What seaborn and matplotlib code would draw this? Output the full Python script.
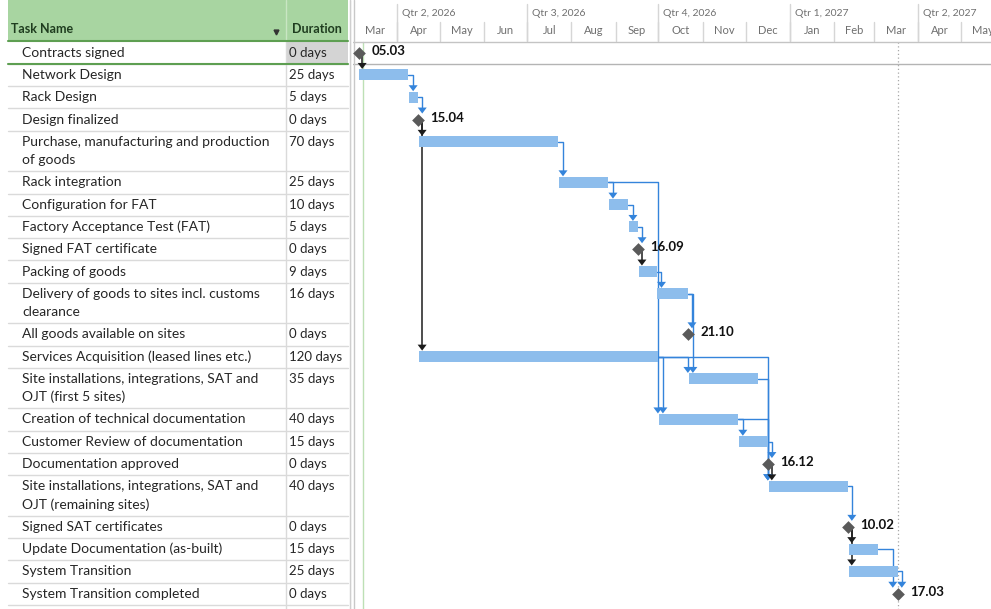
import pandas as pd
import numpy as np
import seaborn as sns
import matplotlib.pyplot as plt
import matplotlib.dates as mdates
from matplotlib.patches import Rectangle, Polygon

# ---------------- data ----------------
task_names = [
    "Contracts signed",
    "Network Design",
    "Rack Design",
    "Design finalized",
    "Purchase, manufacturing and production\nof goods",
    "Rack integration",
    "Configuration for FAT",
    "Factory Acceptance Test (FAT)",
    "Signed FAT certificate",
    "Packing of goods",
    "Delivery of goods to sites incl. customs\nclearance",
    "All goods available on sites",
    "Services Acquisition (leased lines etc.)",
    "Site installations, integrations, SAT and\nOJT (first 5 sites)",
    "Creation of technical documentation",
    "Customer Review of documentation",
    "Documentation approved",
    "Site installations, integrations, SAT and\nOJT (remaining sites)",
    "Signed SAT certificates",
    "Update Documentation (as-built)",
    "System Transition",
    "System Transition completed",
]
durations = ["0 days", "25 days", "5 days", "0 days", "70 days", "25 days",
             "10 days", "5 days", "0 days", "9 days", "16 days", "0 days",
             "120 days", "35 days", "40 days", "15 days", "0 days", "40 days",
             "0 days", "15 days", "25 days", "0 days"]
starts = ["2026-03-05 08:00", "2026-03-05 08:00", "2026-04-09 08:00", "2026-04-15 17:00",
          "2026-04-16 08:00", "2026-07-23 08:00", "2026-08-27 08:00", "2026-09-10 08:00",
          "2026-09-16 17:00", "2026-09-17 08:00", "2026-09-30 08:00", "2026-10-21 17:00",
          "2026-04-16 08:00", "2026-10-22 08:00", "2026-10-01 08:00", "2026-11-26 08:00",
          "2026-12-16 17:00", "2026-12-17 08:00", "2027-02-10 17:00", "2027-02-11 08:00",
          "2027-02-11 08:00", "2027-03-17 17:00"]
finishes = ["2026-03-05 08:00", "2026-04-08 17:00", "2026-04-15 17:00", "2026-04-15 17:00",
            "2026-07-22 17:00", "2026-08-26 17:00", "2026-09-09 17:00", "2026-09-16 17:00",
            "2026-09-16 17:00", "2026-09-29 17:00", "2026-10-21 17:00", "2026-10-21 17:00",
            "2026-09-30 17:00", "2026-12-09 17:00", "2026-11-25 17:00", "2026-12-16 17:00",
            "2026-12-16 17:00", "2027-02-10 17:00", "2027-02-10 17:00", "2027-03-03 17:00",
            "2027-03-17 17:00", "2027-03-17 17:00"]

# predecessor, successor, px offset of the vertical drop
links = [
    (0, 1, 3), (1, 2, 4), (2, 3, 4), (3, 4, 3), (3, 12, 3), (4, 5, 4),
    (5, 6, 4), (5, 14, -1), (6, 7, 4), (7, 8, 4), (8, 9, 3), (9, 10, 4),
    (10, 11, 4), (10, 13, 4), (12, 13, -1), (12, 14, 4), (12, 17, -1),
    (13, 17, -1), (14, 15, 4), (14, 17, -1), (15, 16, 4), (16, 17, 3),
    (17, 18, 4), (18, 19, 3), (18, 20, 3), (19, 21, -5), (20, 21, 4),
]

quarter_labels = ["Qtr 2, 2026", "Qtr 3, 2026", "Qtr 4, 2026", "Qtr 1, 2027", "Qtr 2, 2027"]
month_labels = ["Mar", "Apr", "May", "Jun", "Jul", "Aug", "Sep", "Oct", "Nov", "Dec",
                "Jan", "Feb", "Mar", "Apr", "May"]

view_start = "2026-03-01"
view_end = "2027-05-22"
status_date = "2026-03-08"

# ---------------- style ----------------
sns.set_theme(style="white")
plt.rcParams['font.family'] = ['Lato', 'DejaVu Sans']

W, H = 991, 609
BAR = "#8dbdec"
LINK = "#3484db"
BLACK = "#1c1c1c"
GREEN = "#a8d5a1"
DKGREEN = "#5e9f52"
GRID = "#dadada"
TXT = "#262626"

fig = plt.figure(figsize=(W / 100, H / 100), dpi=100)
ax_t = fig.add_axes([0, 0, 352 / W, 1])
ax_g = fig.add_axes([353 / W, 0, (W - 353) / W, 1])

# row layout (1 y-unit = 1 pixel)
n_lines = [len(n.split("\n")) for n in task_names]
heights = [22.3 + (k - 1) * 18.2 for k in n_lines]
tops = 41.5 + np.concatenate([[0], np.cumsum(heights)[:-1]])
bottoms = tops + np.array(heights)
centers = tops + 11.15

# ---------------- table ----------------
ax_t.set_xlim(0, 352)
ax_t.set_ylim(H, 0)
ax_t.axis("off")

ax_t.add_patch(Rectangle((8, 0), 340, 40.5, color=GREEN, lw=0))
ax_t.plot([286, 286], [0, 40.5], color="#c9e6c3", lw=1)
ax_t.text(11, 29, "Task Name", fontsize=9, fontweight="bold", color="#1f3d1f", va="center")
ax_t.text(292, 29, "Duration", fontsize=9, fontweight="bold", color="#1f3d1f", va="center")
ax_t.plot(276, 31.5, marker="v", ms=3.5, color="#333333")

# selected cell
ax_t.add_patch(Rectangle((287, 42), 61, bottoms[0] - 42, color="#d4d4d4", lw=0))

for i, name in enumerate(task_names):
    for k, line in enumerate(name.split("\n")):
        ax_t.text(22, centers[i] + k * 18.2, line, fontsize=10, color=TXT, va="center")
    ax_t.text(289, centers[i], durations[i], fontsize=9.5, color=TXT, va="center")
    ax_t.plot([8, 348], [bottoms[i], bottoms[i]], color=GRID, lw=1)

ax_t.plot([286, 286], [41, H], color=GRID, lw=1)
ax_t.plot([8, 348], [41, 41], color=DKGREEN, lw=1.5)
ax_t.plot([8, 348], [bottoms[0], bottoms[0]], color=DKGREEN, lw=1.5)
ax_t.plot([349.5, 349.5], [0, H], color="#cfcfcf", lw=1)
ax_t.plot([351.5, 351.5], [0, H], color="#dedede", lw=1)

# ---------------- gantt ----------------
x0 = mdates.date2num(pd.Timestamp(view_start))
x1 = mdates.date2num(pd.Timestamp(view_end))
dpp = (x1 - x0) / (W - 353)  # days per pixel

st = mdates.date2num(pd.to_datetime(starts))
fn = mdates.date2num(pd.to_datetime(finishes))
is_ms = st == fn
tasks = ~is_ms

# header
q_starts = mdates.date2num(pd.date_range("2026-04-01", periods=len(quarter_labels), freq="QS"))
m_starts = mdates.date2num(pd.date_range(view_start, periods=len(month_labels) + 1, freq="MS"))
for q, lab in zip(q_starts, quarter_labels):
    ax_g.plot([q, q], [4, 41], color="#d6d6d6", lw=1)
    ax_g.text(q + 5 * dpp, 14, lab, fontsize=7.5, color="#6f6f6f", va="center", clip_on=True)
for j, lab in enumerate(month_labels):
    if j > 0:
        ax_g.plot([m_starts[j], m_starts[j]], [22, 41], color="#d6d6d6", lw=1)
    ax_g.text((m_starts[j] + m_starts[j + 1]) / 2, 30, lab, fontsize=8, color="#6f6f6f",
              ha="center", va="center", clip_on=True)
ax_g.plot([x0, x1], [41.5, 41.5], color="#c4c4c4", lw=1)
ax_g.plot([x0, x1], [bottoms[0], bottoms[0]], color="#b4b4b4", lw=1)
ax_g.plot([x0 + 0.5 * dpp, x0 + 0.5 * dpp], [0, H], color="#c8c8c8", lw=1)

# status date and project finish lines
sd = mdates.date2num(pd.Timestamp(status_date))
ax_g.plot([sd, sd], [42, H], color="#bde0b5", lw=1, zorder=1)
ax_g.plot([fn.max(), fn.max()], [42, H], color="#a8a8a8", lw=0.9, ls=(0, (1, 2)), zorder=1)

# bars
ax_g.barh(centers[tasks], fn[tasks] - st[tasks], left=st[tasks], height=11,
          color=BAR, lw=0, zorder=3)

# links
for p, s, off in links:
    vx = max(fn[p], st[s]) + off * dpp
    tip = centers[s] - 6
    col = BLACK if is_ms[p] else LINK
    if is_ms[p]:
        ax_g.plot([vx, vx], [centers[p], tip - 4], color=col, lw=1.1, zorder=2)
    else:
        ax_g.plot([fn[p], vx, vx], [centers[p], centers[p], tip - 4], color=col, lw=1.0, zorder=2)
    ax_g.add_patch(Polygon([[vx - 4.5 * dpp, tip - 6], [vx + 4.5 * dpp, tip - 6], [vx, tip]],
                           closed=True, color=col, lw=0, zorder=4))

# milestones
sns.scatterplot(x=fn[is_ms], y=centers[is_ms], marker="D", s=42, color="#5a5a5a",
                linewidth=0, ax=ax_g, zorder=5, legend=False)
for x, y, f in zip(fn[is_ms], centers[is_ms], pd.to_datetime(finishes)[is_ms]):
    ax_g.text(x + 12 * dpp, y - 2, f.strftime("%d.%m"), fontsize=9.5, fontweight="bold",
              color="#111111", va="center")

ax_g.set_xlim(x0, x1)
ax_g.set_ylim(H, 0)
ax_g.axis("off")

fig.savefig("out.png", dpi=100)
